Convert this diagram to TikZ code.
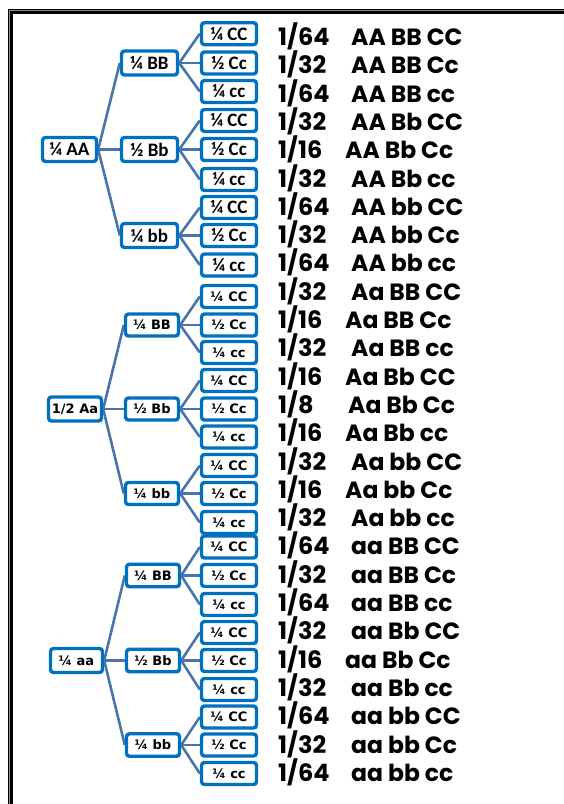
\documentclass[tikz,border=0pt]{standalone}
\usepackage{fontspec}
\setmainfont{DejaVu Sans}
\newfontfamily\calfont{Carlito}
\newfontfamily\vfont{DejaVu Sans}
\newfontfamily\comicfont{Poppins}
\usetikzlibrary{backgrounds}
\definecolor{boxblue}{RGB}{0,112,192}
\definecolor{edgeblue}{RGB}{74,116,170}
\definecolor{framegray}{RGB}{140,140,140}
\tikzset{
  gbox/.style={draw=boxblue, line width=3.4pt, rounded corners=3pt, fill=white,
    inner sep=0pt, text=black},
  cbox/.style={gbox, minimum width=55pt, minimum height=22pt},
  topfont/.style={font=\calfont\bfseries\fontsize{19}{19}\selectfont},
  lowfont/.style={font=\vfont\bfseries\fontsize{13}{13}\selectfont},
  link/.style={draw=edgeblue, line width=2.6pt},
  fractext/.style={anchor=base west, inner sep=0pt,
    font=\comicfont\bfseries\fontsize{24}{24}\selectfont},
  genotext/.style={anchor=base west, inner sep=0pt,
    font=\comicfont\bfseries\fontsize{23.5}{23.5}\selectfont},
}
\begin{document}
\begin{tikzpicture}[x=1pt,y=-1pt]
\useasboundingbox (0,0) rectangle (564,804);

% double frame, running off the right and bottom edges
\coordinate (fbl) at (10.5,812);
\coordinate (ftl) at (10.5,11.5);
\coordinate (ftr) at (572,11.5);
\draw[black, line width=5pt] (fbl) -- (ftl) -- (ftr);
\coordinate (gbl) at (9.6,812);
\coordinate (gtl) at (9.6,10.6);
\coordinate (gtr) at (572,10.6);
\draw[framegray, line width=0.9pt] (gbl) -- (gtl) -- (gtr);

% third level: C boxes
\foreach \y [count=\n from 0] in {33.7,63,91.5,120.5,149.5,179.5,207.5,235.5,265,
  296.5,325,352.5,380.5,409,437,465.5,493.5,522.5,
  547,575.5,604.5,632.5,660.5,689.5,717,745,773.5}{
  \pgfmathtruncatemacro\cm{mod(\n,3)}
  \ifnum\n<9
    \node[cbox, topfont] (c\n) at (229,\y) {\ifcase\cm ¼ CC\or ½ Cc\or ¼ cc\fi};
  \else
    \node[cbox, lowfont] (c\n) at (229,\y) {\ifcase\cm ¼ CC\or ½ Cc\or ¼ cc\fi};
  \fi
}

% first level: A boxes
\node[gbox, topfont, minimum width=54pt, minimum height=24pt] (a0) at (69.5,149.5) {¼ AA};
\node[gbox, lowfont, minimum width=53pt, minimum height=24pt] (a1) at (75,409) {1/2 Aa};
\node[gbox, lowfont, minimum width=52pt, minimum height=24pt] (a2) at (76.5,660.5) {¼ aa};

% second level: B boxes
\foreach \g/\bx/\bw/\bh in {0/149.5/56/24, 1/152/53/22, 2/153/53/22.5}{
  \foreach \k in {0,1,2}{
    \pgfmathtruncatemacro\r{9*\g+3*\k+1}
    \ifnum\g=0
      \node[gbox, topfont, minimum width=\bw pt, minimum height=\bh pt] (b\g\k)
        at (\bx,0 |- c\r) {\ifcase\k ¼ BB\or ½ Bb\or ¼ bb\fi};
    \else
      \node[gbox, lowfont, minimum width=\bw pt, minimum height=\bh pt] (b\g\k)
        at (\bx,0 |- c\r) {\ifcase\k ¼ BB\or ½ Bb\or ¼ bb\fi};
    \fi
  }
}

% connectors
\begin{scope}[on background layer]
\foreach \g in {0,1,2}{
  \foreach \k in {0,1,2}{
    \draw[link] (a\g.east) -- (b\g\k.west);
    \foreach \m in {0,1,2}{
      \pgfmathtruncatemacro\r{9*\g+3*\k+\m}
      \draw[link] (b\g\k.east) -- (c\r.west);
    }
  }
}
\end{scope}

% offspring probabilities and genotypes
\foreach \n in {0,...,26}{
  \pgfmathtruncatemacro\ga{int(\n/9)}
  \pgfmathtruncatemacro\gb{mod(int(\n/3),3)}
  \pgfmathtruncatemacro\gc{mod(\n,3)}
  \pgfmathtruncatemacro\het{(\ga==1)+(\gb==1)+(\gc==1)}
  \pgfmathtruncatemacro\den{64/(2^\het)}
  \pgfmathsetmacro\yb{45.5+28.3*\n}
  \pgfmathsetmacro\gx{\het==2 ? 345 : (\het==3 ? 348 : 351)}
  \node[fractext] (p\n) at (278,\yb) {1/\den};
  \node[genotext] (g\n) at (\gx,\yb) {\ifcase\ga AA\or Aa\or aa\fi\ \ifcase\gb BB\or Bb\or bb\fi\ \ifcase\gc CC\or Cc\or cc\fi};
}
\end{tikzpicture}
\end{document}
